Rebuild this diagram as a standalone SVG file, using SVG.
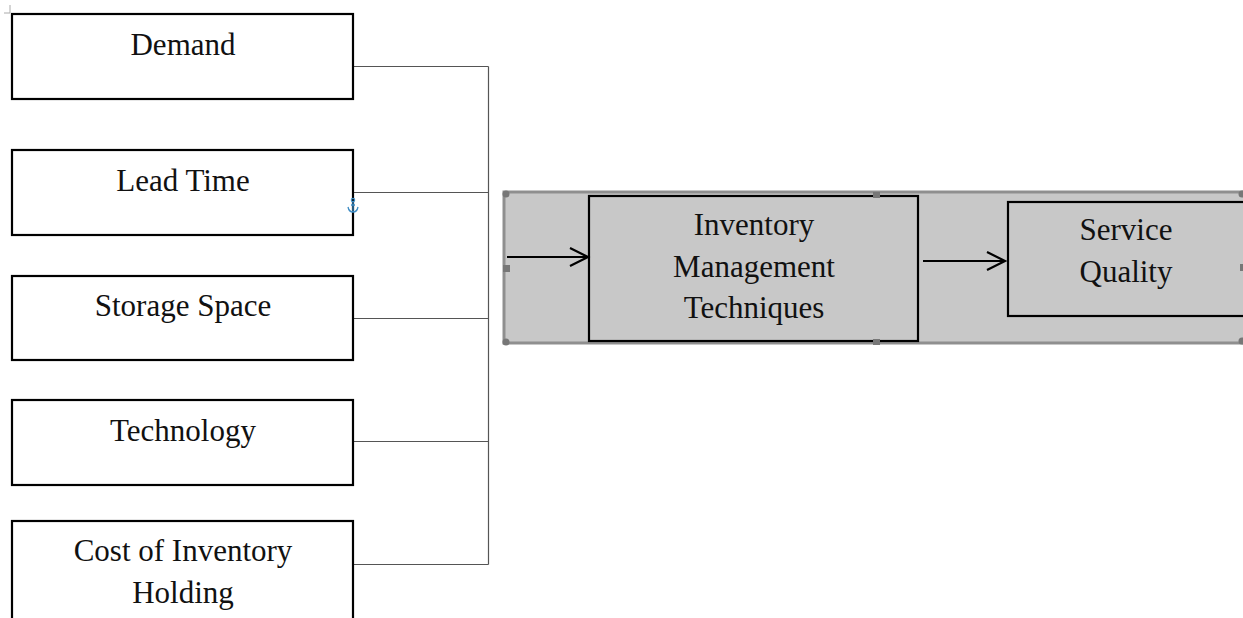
<svg xmlns="http://www.w3.org/2000/svg" width="1243" height="618" viewBox="0 0 1243 618">
<style>
.box{fill:#fff;stroke:#000;stroke-width:2.2}
.gbox{fill:#c8c8c8;stroke:#000;stroke-width:2.2}
.t{font-family:"Liberation Serif","Times New Roman",serif;font-size:31px;fill:#111;text-anchor:middle}
.conn{fill:none;stroke:#555;stroke-width:1.2}
.arr{fill:none;stroke:#000;stroke-width:2.2}
.h{fill:#777}
</style>
<rect width="1243" height="618" fill="#fff"/>
<path d="M10 5 V13 H4" fill="none" stroke="#aaa" stroke-width="1"/>
<g id="connectors">
<path class="conn" d="M353 66.5 H488.5 M353 192.5 H488.5 M353 318.5 H488.5 M353 441.5 H488.5 M353 564.5 H488.5 M488.5 66.5 V564.5"/>
</g>
<g id="band">
<rect x="504" y="192" width="742" height="151" fill="#c8c8c8" stroke="#8f8f8f" stroke-width="3"/>
</g>
<g id="demand"><rect class="box" x="12" y="14" width="341" height="85"/><text class="t" x="183" y="55">Demand</text></g>
<g id="leadtime"><rect class="box" x="12" y="150" width="341" height="85"/><text class="t" x="183" y="191">Lead Time</text></g>
<g id="storage"><rect class="box" x="12" y="276" width="341" height="84"/><text class="t" x="183" y="316">Storage Space</text></g>
<g id="technology"><rect class="box" x="12" y="400" width="341" height="85"/><text class="t" x="183" y="441">Technology</text></g>
<g id="cost"><rect class="box" x="12" y="521" width="341" height="110"/><text class="t" x="183" y="561">Cost of Inventory</text><text class="t" x="183" y="603">Holding</text></g>
<g id="imt"><rect class="gbox" x="589" y="196" width="329" height="145"/><text class="t" x="754" y="235">Inventory</text><text class="t" x="754" y="277">Management</text><text class="t" x="754" y="318">Techniques</text></g>
<g id="service"><rect class="gbox" x="1008" y="202" width="240" height="114"/><text class="t" x="1126" y="240">Service</text><text class="t" x="1126" y="282">Quality</text></g>
<g id="arrows">
<path class="arr" d="M507 257 H588 M570 248 L588 257 L570 266"/>
<path class="arr" d="M923 261 H1005 M987 252 L1005 261 L987 270"/>
</g>
<g id="handles">
<circle class="h" cx="506" cy="194" r="3.5"/>
<circle class="h" cx="506" cy="342" r="3.5"/>
<circle class="h" cx="1242" cy="194" r="3.5"/>
<circle class="h" cx="1242" cy="341" r="3.5"/>
<rect class="h" x="503" y="265" width="7" height="7"/>
<rect class="h" x="873" y="192" width="7" height="6"/>
<rect class="h" x="873" y="339" width="7" height="6"/>
<rect class="h" x="1240" y="264" width="4" height="7"/>
</g>
<g id="anchor" fill="none" stroke="#3d8cc4" stroke-width="1.3">
<circle cx="353" cy="200" r="1.6"/>
<path d="M353 202 V212 M348 207 Q349 212 353 212 Q357 212 358 207 M351 205 H355"/>
</g>
</svg>
